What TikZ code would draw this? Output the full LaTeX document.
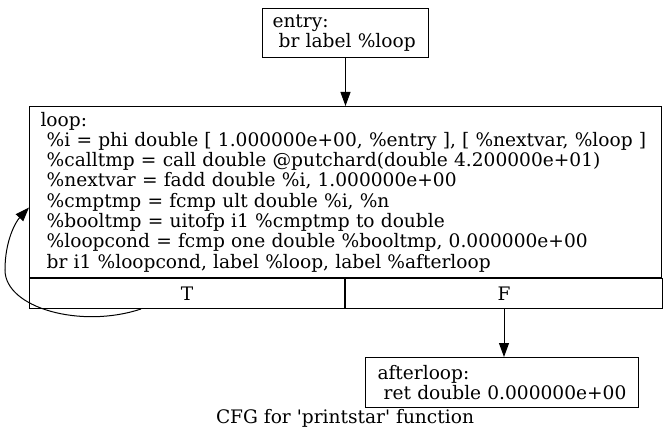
\documentclass[tikz,border=0pt]{standalone}
\usepackage{fontspec}
\setmainfont{DejaVu Serif}
\usetikzlibrary{arrows.meta,calc}
\newcommand{\cfgfont}{\fontsize{18.6}{20.3}\selectfont}
\tikzset{
  blk/.style={draw, line width=1pt, inner ysep=0pt, align=left, font=\cfgfont, anchor=north west},
  cell/.style={draw, line width=1pt, inner sep=0pt, minimum height=30pt, font=\cfgfont, anchor=north west},
  flow/.style={line width=1pt, -{Triangle[length=14pt,width=10pt]}},
}

\begin{document}
\begin{tikzpicture}[x=1pt, y=-1pt]
		%%%%% START %%%%%
		\useasboundingbox (0,0) rectangle (665,444);
		
		\node[blk, text width=146pt, inner xsep=10pt, minimum height=49pt] (entry) at (262,8)
			{entry:\\\mbox{}\ br label \%loop};
		
		\node[blk, text width=610pt, inner xsep=11pt, minimum height=171pt] (loop) at (29,106)
			{loop:\\
			\mbox{}\ \%i = phi double [ 1.000000e+00, \%entry ], [ \%nextvar, \%loop ]\\
			\mbox{}\ \%calltmp = call double @putchard(double 4.200000e+01)\\
			\mbox{}\ \%nextvar = fadd double \%i, 1.000000e+00\\
			\mbox{}\ \%cmptmp = fcmp ult double \%i, \%n\\
			\mbox{}\ \%booltmp = uitofp i1 \%cmptmp to double\\
			\mbox{}\ \%loopcond = fcmp one double \%booltmp, 0.000000e+00\\
			\mbox{}\ br i1 \%loopcond, label \%loop, label \%afterloop};
		\node[cell, minimum width=315pt] (loopT) at (loop.south west) {T};
		\node[cell, minimum width=317pt] (loopF) at (loopT.north east) {F};
		
		\node[blk, text width=249pt, inner xsep=12pt, minimum height=50pt] (after) at (365,357)
			{afterloop:\\\mbox{}\ ret double 0.000000e+00};
		
		\node[font=\cfgfont] (title) at (345,418)
			{CFG for \textquotesingle printstar\textquotesingle{} function};
		
		\draw[flow] (entry) -- (loop);
		\draw[flow] (loopF.south) -- (loopF.south |- after.north);
		\draw[flow] ([xshift=-46pt]loopT.south) .. controls +(-60,20) and +(0,38) ..
			([shift={(-24,78)}]loop.west) .. controls +(0,-30) and +(-13,14) ..
			([yshift=-15.5pt]loop.west);
		
		%%%%% END %%%%%
	\end{tikzpicture}
\end{document}
